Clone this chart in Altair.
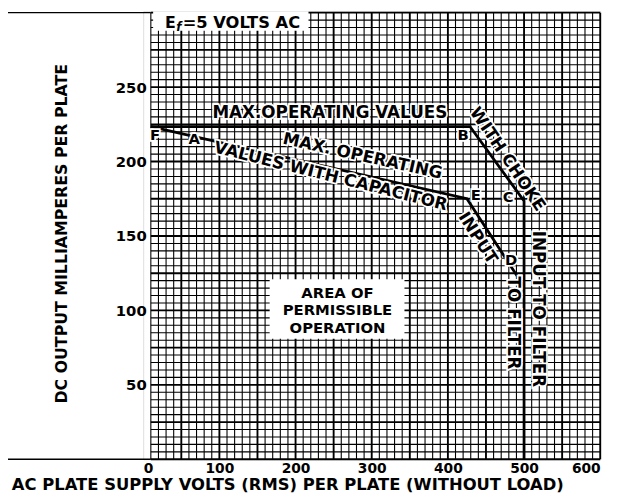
import altair as alt
import pandas as pd

# ---------------- data ----------------
choke_volts = [10, 429, 500, 500]
choke_ma = [223.5, 223.5, 173.5, 0]
cap_volts = [10, 425, 500]
cap_ma = [223.5, 175, 116]

point_names = ["F", "A", "B", "C", "D", "E"]
point_volts = [15.5, 67, 420, 479, 483, 436.5]
point_ma = [217.5, 215, 217.5, 176, 134, 177.7]

note_texts = ["MAX.OPERATING VALUES", "WITH CHOKE", "INPUT TO FILTER",
              "MAX. OPERATING", "VALUES WITH CAPACITOR", "INPUT", "TO FILTER"]
note_volts = [245, 478, 518, 288, 246, 439, 486]
note_ma = [232.8, 201.5, 101, 203.5, 190, 148.5, 91.5]
note_angles = [0, 56, 90, 12.5, 14, 57.5, 90]

area_text = ["AREA OF\nPERMISSIBLE\nOPERATION"]
area_volts = [255]
area_ma = [111.5]

box_v0 = [166, 13]
box_v1 = [343, 217]
box_m0 = [81, 287.8]
box_m1 = [121, 301]

ef_texts = ["E", "f", "=5 VOLTS AC"]
ef_volts = [35.6, 46.6, 51.8]
ef_ma = [293, 290.5, 293]
ef_sizes = [16, 12, 16.5]
ef_align = ["center", "center", "left"]

x_ticks = [0, 100, 200, 300, 400, 500, 600]
y_ticks = [50, 100, 150, 200, 250]

grid_volts = list(range(10, 601, 10))
grid_ma = list(range(0, 301, 5))

FRAME_LEFT = -179

FONT = "DejaVu Sans"

# ---------------- scales / axes ----------------
xs = alt.Scale(domain=[0, 600], nice=False, zero=False)
ys = alt.Scale(domain=[0, 301], nice=False, zero=False)

xaxis = alt.Axis(values=x_ticks, ticks=False, domain=False, grid=False,
                 labelFont=FONT, labelFontWeight="bold", labelFontSize=14,
                 labelColor="black", labelPadding=2,
                 title="AC PLATE SUPPLY VOLTS (RMS) PER PLATE (WITHOUT LOAD)",
                 titleFont=FONT, titleFontWeight="bold", titleFontSize=16.6,
                 titleColor="black", titleX=146, titleY=26,
                 titleBaseline="middle", titleAlign="center")
yaxis = alt.Axis(values=y_ticks, ticks=False, domain=False, grid=False,
                 labelFont=FONT, labelFontWeight="bold", labelFontSize=15,
                 labelColor="black", labelPadding=-3,
                 title="DC OUTPUT MILLIAMPERES PER PLATE",
                 titleFont=FONT, titleFontWeight="bold", titleFontSize=16,
                 titleColor="black", titleX=-83, titleY=225, titleAngle=270,
                 titleBaseline="middle", titleAlign="center")

X = lambda f="V": alt.X(f"{f}:Q", scale=xs, axis=xaxis)
Y = lambda f="mA": alt.Y(f"{f}:Q", scale=ys, axis=yaxis)

# ---------------- grid ----------------
vgrid = pd.DataFrame({"V": grid_volts,
                      "mA": [0] * len(grid_volts),
                      "mA2": [300] * len(grid_volts),
                      "w": [1.9 if v % 50 == 0 else 1.1 for v in grid_volts]})
hgrid = pd.DataFrame({"mA": grid_ma,
                      "V": [10] * len(grid_ma),
                      "V2": [600] * len(grid_ma),
                      "w": [1.9 if m % 25 == 0 else 1.1 for m in grid_ma]})

vg = alt.Chart(vgrid).mark_rule(color="black").encode(
    x=X(), y=Y(), y2="mA2:Q", strokeWidth=alt.StrokeWidth("w:Q", scale=None))
hg = alt.Chart(hgrid).mark_rule(color="black").encode(
    y=Y(), x=X(), x2="V2:Q", strokeWidth=alt.StrokeWidth("w:Q", scale=None))

# frame around the axis-title area
frame_df = pd.DataFrame({
    "V": [FRAME_LEFT, FRAME_LEFT, FRAME_LEFT],
    "V2": [FRAME_LEFT, 10, 10],
    "mA": [0, 300, 0],
    "mA2": [300, 300, 0],
})
frame = alt.Chart(frame_df).mark_rule(color="black", strokeWidth=1.4).encode(
    x=X(), x2="V2:Q", y=Y(), y2="mA2:Q")

# white boxes
box_df = pd.DataFrame({"V": box_v0, "V2": box_v1, "mA": box_m0, "mA2": box_m1})
boxes = alt.Chart(box_df).mark_rect(color="white").encode(
    x=X(), x2="V2:Q", y=Y(), y2="mA2:Q")

# curves
choke_df = pd.DataFrame({"V": choke_volts, "mA": choke_ma, "o": range(len(choke_volts))})
cap_df = pd.DataFrame({"V": cap_volts, "mA": cap_ma, "o": range(len(cap_volts))})
choke = alt.Chart(choke_df).mark_line(color="black", strokeWidth=2.8).encode(
    x=X(), y=Y(), order="o:Q")
cap = alt.Chart(cap_df).mark_line(color="black", strokeWidth=2.8).encode(
    x=X(), y=Y(), order="o:Q")

# annotations
note_df = pd.DataFrame({"t": note_texts, "V": note_volts, "mA": note_ma, "a": note_angles})
note_halo = alt.Chart(note_df).mark_text(
    font=FONT, fontWeight="bold", fontSize=17, color="white",
    stroke="white", strokeWidth=3.5, align="center", baseline="middle").encode(
    x=X(), y=Y(), text="t:N", angle=alt.Angle("a:Q", scale=None))
note_txt = alt.Chart(note_df).mark_text(
    font=FONT, fontWeight="bold", fontSize=17, color="black",
    align="center", baseline="middle").encode(
    x=X(), y=Y(), text="t:N", angle=alt.Angle("a:Q", scale=None))

pt_df = pd.DataFrame({"t": point_names, "V": point_volts, "mA": point_ma})
pt_halo = alt.Chart(pt_df).mark_text(
    font=FONT, fontWeight="bold", fontSize=15, color="white",
    stroke="white", strokeWidth=3.5, align="center", baseline="middle").encode(
    x=X(), y=Y(), text="t:N")
pt_txt = alt.Chart(pt_df).mark_text(
    font=FONT, fontWeight="bold", fontSize=15, color="black",
    align="center", baseline="middle").encode(
    x=X(), y=Y(), text="t:N")

area_df = pd.DataFrame({"t": area_text, "V": area_volts, "mA": area_ma})
area_txt = alt.Chart(area_df).mark_text(
    font=FONT, fontWeight="bold", fontSize=15, color="black",
    lineBreak="\n", lineHeight=17.5,
    align="center", baseline="middle").encode(
    x=X(), y=Y(), text="t:N")

ef_df = pd.DataFrame({"t": ef_texts, "V": ef_volts, "mA": ef_ma,
                      "s": ef_sizes, "al": ef_align})
ef_parts = []
for i in range(len(ef_texts)):
    sub = ef_df.iloc[[i]]
    ef_parts.append(alt.Chart(sub).mark_text(
        font=FONT, fontWeight="bold", fontSize=ef_sizes[i], color="black",
        fontStyle="italic" if ef_texts[i] == "f" else "normal",
        align=ef_align[i], baseline="middle").encode(
        x=X(), y=Y(), text="t:N"))

chart = alt.layer(vg, hg, frame, boxes, choke, cap, note_halo, note_txt,
                  pt_halo, pt_txt, area_txt, *ef_parts).properties(
    width=463, height=454,
    autosize=alt.AutoSizeParams(type="none"),
    padding={"left": 137, "top": 0, "right": 17, "bottom": 36},
).configure_view(stroke=None).configure(background="white")

chart.save("out.html", embed_options={"renderer": "svg", "actions": False})
